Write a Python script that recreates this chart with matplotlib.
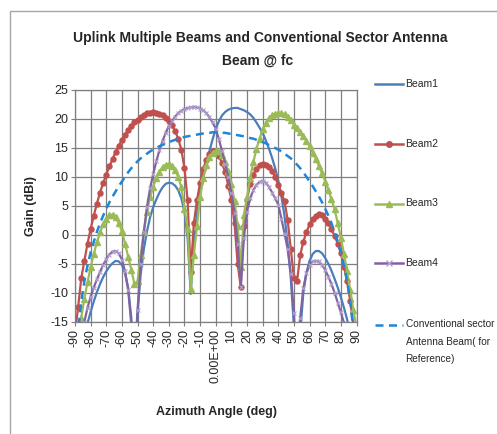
import matplotlib
matplotlib.use("Agg")
import matplotlib.pyplot as plt
from matplotlib import font_manager
from matplotlib.lines import Line2D
from matplotlib.patches import Rectangle

names = {f.name for f in font_manager.fontManager.ttflist}
FONT = 'Liberation Sans Narrow' if 'Liberation Sans Narrow' in names else 'Liberation Sans'
plt.rcParams['font.family'] = [FONT, 'DejaVu Sans']

# azimuth angle categories (deg)
angles = list(range(-90, 91, 2))

beam1 = [-35, -26, -21, -17.5, -15.3, -13.3, -11.5, -9.9, -8.5, -7.3,
         -6.3, -5.5, -4.9, -4.5, -4.6, -5.2, -6.6, -9.2, -14.3, -25,
         -13.5, -6.8, -2.5, 0.6, 3.0, 4.8, 6.1, 7.3, 8.2, 8.8,
         9.0, 8.9, 8.5, 7.7, 6.3, 4.0, -0.5, -10.2, -1.5, 3.8,
         7.3, 10.0, 12.3, 14.5, 16.5, 18.3, 19.6, 20.6, 21.2, 21.6,
         21.8, 21.9, 21.9, 21.7, 21.5, 21.2, 20.8, 20.2, 19.4, 18.5,
         17.6, 16.3, 14.9, 13.3, 11.5, 9.3, 6.6, 3.2, -1.5, -7.5,
         -16, -24, -17, -10, -6.5, -4.5, -3.3, -2.8, -2.8, -3.2,
         -4.0, -5.0, -6.2, -7.6, -9.1, -10.8, -12.6, -14.6, -17.5, -22,
         -30]

beam2 = [-17, -12.5, -7.5, -4.5, -1.5, 1.0, 3.3, 5.4, 7.3, 8.9,
         10.4, 11.8, 13.1, 14.3, 15.4, 16.4, 17.3, 18.1, 18.8, 19.4,
         19.9, 20.4, 20.7, 21.0, 21.1, 21.2, 21.1, 20.9, 20.6, 20.2,
         19.7, 18.9, 17.9, 16.6, 14.7, 11.5, 6.0, -6.5, 2.0, 6.0,
         9.0, 11.4, 13.0, 14.0, 14.4, 14.3, 13.6, 12.4, 10.8, 8.5,
         6.0, 2.0, -5.0, -9.0, 1.5, 6.0, 8.8, 10.4, 11.4, 12.0,
         12.2, 12.1, 11.7, 11.0, 10.0, 8.6, 7.2, 5.8, 2.5, -2.5,
         -7.5, -8.0, -3.5, -1.2, 0.5, 1.8, 2.7, 3.3, 3.6, 3.4,
         2.8, 2.0, 1.0, -0.2, -1.5, -3.2, -5.5, -8.0, -11.5, -15.5,
         -22]

beam3 = [-22, -17.5, -14.3, -11.0, -8.2, -5.6, -3.3, -1.3, 0.4, 1.8,
         2.8, 3.4, 3.5, 3.0, 2.0, 0.6, -1.5, -3.8, -6.0, -8.5,
         -8.0, -3.5, 0.5, 4.0, 6.5, 8.3, 9.8, 10.9, 11.7, 12.1,
         12.2, 11.9, 11.2, 10.0, 8.2, 4.5, 1.0, -9.4, -3.5, 1.5,
         6.5, 9.8, 12.0, 13.5, 14.2, 14.5, 14.4, 13.8, 12.6, 11.0,
         8.8, 5.8, 1.5, -5.5, 3.5, 6.5, 9.8, 12.5, 14.8, 16.6,
         18.2, 19.3, 20.1, 20.6, 20.9, 21.0, 21.0, 20.8, 20.4, 19.8,
         19.0, 18.4, 17.7, 17.0, 16.2, 15.3, 14.2, 13.1, 11.9, 10.6,
         9.2, 7.7, 6.1, 4.4, 2.0, -0.5, -3.3, -6.3, -9.5, -13.0,
         -16]

beam4 = [-30, -22, -18, -15.0, -12.6, -10.7, -9.1, -7.7, -6.4, -5.2,
         -4.2, -3.4, -2.9, -2.8, -3.2, -4.3, -6.3, -9.5, -15.5, -22,
         -13, -5, 0.5, 4.8, 8.0, 10.5, 12.7, 14.6, 16.2, 17.6,
         18.8, 19.6, 20.4, 21.0, 21.4, 21.7, 21.9, 22.0, 22.1, 22.0,
         21.8, 21.5, 21.0, 20.3, 19.4, 18.3, 16.5, 14.5, 12.3, 10.0,
         7.3, 3.8, -1.5, -9.0, -0.5, 4.0, 6.3, 7.7, 8.6, 9.1,
         9.3, 9.0, 8.3, 7.3, 6.3, 5.2, 2.8, 0.2, -2.5, -6.8,
         -13.5, -25, -14.3, -9.2, -6.6, -5.2, -4.6, -4.5, -4.6, -5.2,
         -6.1, -7.2, -8.5, -10.0, -11.7, -13.4, -15.2, -17.5, -21, -26,
         -35]

sector = [-25, -16.5, -11.5, -8.0, -5.3, -3.0, -1.2, 0.5, 2.0, 3.3,
          4.5, 5.6, 6.6, 7.5, 8.4, 9.2, 10.0, 10.8, 11.5, 12.1,
          12.7, 13.2, 13.6, 14.0, 14.4, 14.7, 15.0, 15.3, 15.5, 15.8,
          16.0, 16.2, 16.4, 16.6, 16.7, 16.9, 17.0, 17.1, 17.2, 17.3,
          17.4, 17.5, 17.6, 17.6, 17.7, 17.7, 17.7, 17.6, 17.6, 17.5,
          17.4, 17.3, 17.2, 17.1, 17.0, 16.9, 16.7, 16.6, 16.4, 16.2,
          16.0, 15.8, 15.5, 15.3, 15.0, 14.7, 14.4, 14.0, 13.6, 13.2,
          12.7, 12.1, 11.5, 10.8, 10.0, 9.2, 8.4, 7.5, 6.6, 5.6,
          4.5, 3.3, 2.0, 0.5, -1.2, -3.0, -5.3, -8.0, -11.5, -16.5,
          -25]

xticks = list(range(-90, 91, 10))
xlabels = [('0.00E+00' if v == 0 else str(v)) for v in xticks]
yticks = list(range(-15, 26, 5))

W, H = 497, 434
fig = plt.figure(figsize=(W / 100, H / 100), dpi=100)
fig.patch.set_facecolor('white')

# chart border (runs off the right and bottom edges)
fig.add_artist(Rectangle((10 / W, -0.1), 1.2, 1.1 - 11 / H,
                         transform=fig.transFigure, fill=False,
                         edgecolor='#a6a6a6', lw=1.0))

ax = fig.add_axes([75 / W, 1 - 321.7 / H, (356.5 - 75) / W, (321.7 - 90) / H])

c1, c2, c3, c4, c5 = '#4a7ebb', '#c0504d', '#9bbb59', '#8064a2', '#1f86d9'
dash = (0, (3.2, 2.2))

ax.plot(angles, beam1, color=c1, lw=1.6)
ax.plot(angles, beam2, color=c2, lw=1.6, marker='o', ms=3.6, mec=c2, mfc=c2)
ax.plot(angles, beam3, color=c3, lw=1.6, marker='^', ms=4.2, mec=c3, mfc=c3)
ax.plot(angles, beam4, color=c4, lw=1.6, marker='x', ms=3.5, mew=0.8, mec='#b4a0d0')
ax.plot(angles, sector, color=c5, lw=1.8, ls=dash)

ax.set_xlim(-90, 90)
ax.set_ylim(-15, 25)
ax.set_xticks(xticks)
ax.set_xticklabels(xlabels, rotation=90, fontsize=9, color='#262626')
ax.set_yticks(yticks)
ax.set_yticklabels([str(v) for v in yticks], fontsize=9, color='#262626')
ax.grid(True, color='#7f7f7f', lw=0.9)
ax.set_axisbelow(True)
for s in ax.spines.values():
    s.set_color('#7f7f7f')
    s.set_linewidth(0.9)
ax.tick_params(length=3, color='#7f7f7f', pad=2)

fig.text(260.5 / W, 1 - 38 / H, 'Uplink Multiple Beams and Conventional Sector Antenna',
         ha='center', va='center', fontsize=10, fontweight='bold', color='#262626')
fig.text(257.5 / W, 1 - 61 / H, 'Beam @ fc',
         ha='center', va='center', fontsize=10, fontweight='bold', color='#262626')
fig.text(31 / W, 1 - 206 / H, 'Gain (dBi)', rotation=90, ha='center', va='center',
         fontsize=9, fontweight='bold', color='#262626')
fig.text(216 / W, 1 - 412 / H, 'Azimuth Angle (deg)', ha='center', va='center',
         fontsize=9, fontweight='bold', color='#262626')

# legend, drawn by hand at the reference positions
leg = [('Beam1', c1, None, 84),
       ('Beam2', c2, 'o', 144),
       ('Beam3', c3, '^', 203.5),
       ('Beam4', c4, 'x', 263),
       ('Conventional sector\nAntenna Beam( for\nReference)', c5, None, 325)]
for label, col, mk, yp in leg:
    y = 1 - yp / H
    style = dash if label.startswith('Conv') else '-'
    fig.add_artist(Line2D([375 / W, 403 / W], [y, y], transform=fig.transFigure,
                          color=col, lw=1.8, ls=style))
    if mk:
        fig.add_artist(Line2D([389 / W], [y], transform=fig.transFigure, color=col,
                              marker=mk, ms=4, mec=('#b4a0d0' if mk == 'x' else col)))
    if '\n' in label:
        fig.text(405.5 / W, y + 6 / H, label, ha='left', va='top', fontsize=7.2,
                 color='#262626', linespacing=1.95)
    else:
        fig.text(405.5 / W, y, label, ha='left', va='center', fontsize=7.5,
                 color='#262626')

fig.savefig('out.png', dpi=100)
